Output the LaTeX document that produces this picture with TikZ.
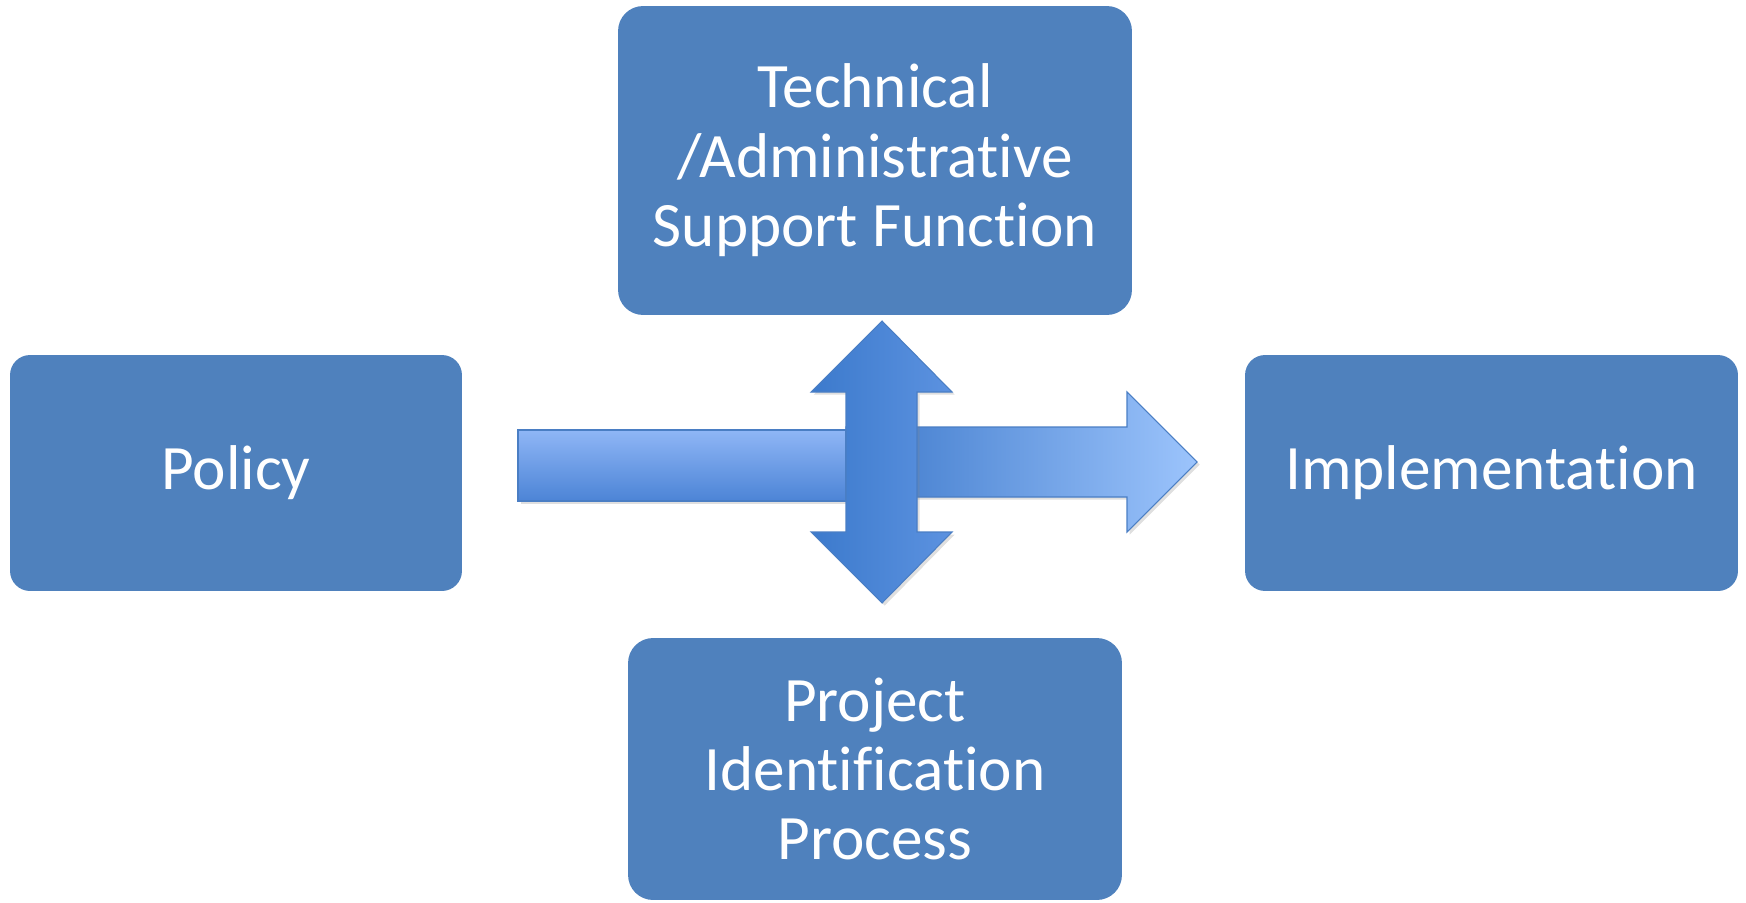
\documentclass[tikz,border=0pt]{standalone}
\usepackage{fontspec}
\setmainfont[Ligatures={NoCommon}]{Carlito}
\usetikzlibrary{shadows}
\definecolor{boxblue}{HTML}{4F81BD}
\definecolor{edgeblue}{HTML}{4A7EC4}

\begin{document}
\begin{tikzpicture}[x=0.02cm, y=-0.02cm,
  every node/.style={fill=boxblue, rounded corners=0.5cm, text=white, align=center, inner sep=0pt,
    font=\fontsize{36}{39.5}\selectfont},
  blockarrow/.style={draw=edgeblue, line width=0.6pt, line join=miter,
    drop shadow={opacity=0.25, shadow xshift=1.5pt, shadow yshift=-1.5pt}}]
\useasboundingbox (0,0) rectangle (1746,902);
\node[minimum width=10.28cm, minimum height=6.18cm] (D1N0) at (875,160.5) {Technical\\/Administrative\\Support Function};
\node[minimum width=9.04cm, minimum height=4.72cm, rounded corners=0.4cm] (D1N1) at (236,473) {Policy};
\node[minimum width=9.86cm, minimum height=4.72cm, rounded corners=0.4cm] (D1N2) at (1491.5,473) {Implementation};
\node[minimum width=9.88cm, minimum height=5.24cm] (D1N3) at (875,769) {Project\\Identification\\Process};
\path[blockarrow, top color={rgb,255:red,143;green,182;blue,246}, bottom color={rgb,255:red,76;green,132;blue,214}]
  (518,430) rectangle (846,501);
\path[blockarrow, left color={rgb,255:red,60;green,120;blue,202}, right color={rgb,255:red,156;green,196;blue,252}]
  (846,427) -- (1127,427) -- (1127,392) -- (1197,462) -- (1127,532) -- (1127,497) -- (846,497) -- cycle;
\path[blockarrow, left color={rgb,255:red,60;green,122;blue,204}, right color={rgb,255:red,92;green,146;blue,224}]
  (882,321) -- (952,392) -- (917,392) -- (917,532) -- (952,532) -- (882,603) -- (811,532) -- (846,532)
  -- (846,392) -- (811,392) -- cycle;
\end{tikzpicture}
\end{document}
